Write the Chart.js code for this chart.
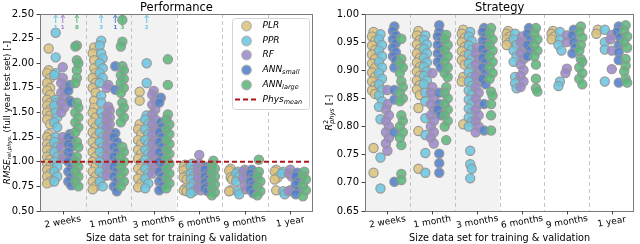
<!DOCTYPE html>
<html lang="en">
<head>
<meta charset="UTF-8" />
<title>Performance and Strategy</title>
<script src="https://cdn.jsdelivr.net/npm/chart.js@4"></script>
<style>
  body { margin: 0; background: #fff; }
  .wrap { display: flex; width: 640px; height: 244px; }
  .cell { width: 320px; height: 244px; }
</style>
</head>
<body>
<div class="wrap">
  <div class="cell"><canvas id="perfChart" width="320" height="244"></canvas></div>
  <div class="cell"><canvas id="stratChart" width="320" height="244"></canvas></div>
</div>

<script>
  const groups = ["2 weeks", "1 month", "3 months", "6 months", "9 months", "1 year"];
  const models = ["PLR", "PPR", "RF", "ANN", "ANN"];
  const modelSubs = ["", "", "", "small", "large"];
  const modelColors = ["#dcc47e", "#6cc6e0", "#9c89c9", "#5180cc", "#5cb77b"];
  const modelOffsets = [-0.31, -0.155, 0, 0.155, 0.31];

  // RMSE rel. phys. per model, one list per training size
  const rmsePLR = [
    [2.15, 1.93, 1.90, 1.85, 1.80, 1.75, 1.72, 1.68, 1.63, 1.60, 1.57, 1.53, 1.50, 1.47, 1.43, 1.38, 1.28, 1.25, 1.22, 1.18, 1.15, 1.12, 1.08, 1.05, 1.02, 0.98, 0.95, 0.92, 0.88, 0.85, 0.80, 0.78],
    [2.16, 2.10, 2.03, 1.95, 1.90, 1.85, 1.80, 1.75, 1.70, 1.62, 1.55, 1.50, 1.45, 1.40, 1.35, 1.30, 1.25, 1.20, 1.15, 1.10, 1.05, 1.00, 0.95, 0.90, 0.85, 0.80, 0.75, 0.72],
    [1.71, 1.62, 1.38, 1.33, 1.28, 1.22, 1.18, 1.12, 1.08, 1.03, 0.98, 0.93, 0.88, 0.83, 0.78, 0.74],
    [0.97, 0.95, 0.93, 0.91, 0.86, 0.84, 0.82, 0.73, 0.71, 0.70],
    [0.93, 0.91, 0.84, 0.82, 0.71, 0.70],
    [0.92, 0.90, 0.84, 0.82, 0.71]
  ];
  const rmsePPR = [
    [2.31, 2.06, 1.90, 1.88, 1.63, 1.60, 1.57, 1.50, 1.45, 1.40, 1.35, 1.25, 1.20, 1.15, 1.10, 1.05, 1.00, 0.95, 0.90, 0.85, 0.80],
    [2.23, 2.18, 2.10, 2.05, 2.00, 1.95, 1.90, 1.85, 1.80, 1.67, 1.60, 1.50, 1.45, 1.40, 1.35, 1.30, 1.25, 1.20, 1.15, 1.10, 1.05, 1.00, 0.95, 0.90, 0.85, 0.80, 0.75],
    [2.00, 1.80, 1.47, 1.43, 1.38, 1.33, 1.28, 1.22, 1.18, 1.12, 1.08, 1.02, 0.98, 0.93, 0.88, 0.83, 0.78, 0.73],
    [0.98, 0.95, 0.92, 0.88, 0.85, 0.82, 0.78, 0.74, 0.70, 0.68],
    [0.90, 0.88, 0.85, 0.80, 0.70, 0.67],
    [0.90, 0.88, 0.70, 0.67]
  ];
  const rmseRF = [
    [1.96, 1.85, 1.80, 1.75, 1.70, 1.66, 1.60, 1.55, 1.50, 1.25, 1.20, 1.15, 1.05, 1.03],
    [1.78, 1.75, 1.56, 1.52, 1.48, 1.45, 1.42, 1.38, 1.35, 1.30, 1.25, 1.20, 1.15, 1.10, 1.05, 1.00, 0.95, 0.90, 0.86],
    [1.72, 1.68, 1.62, 1.58, 1.53, 1.48, 1.43, 1.38, 1.33, 1.28, 1.22, 1.18, 1.12, 1.08, 1.03, 0.98, 0.93, 0.88],
    [1.07, 0.98, 0.95, 0.92, 0.90, 0.86, 0.83, 0.78, 0.74, 0.71],
    [0.92, 0.90, 0.86, 0.83, 0.76, 0.72],
    [0.92, 0.88, 0.85, 0.71, 0.70]
  ];
  const rmseANNsmall = [
    [1.78, 1.72, 1.62, 1.60, 1.28, 1.25, 1.22, 1.18, 1.15, 1.10, 1.05, 1.00, 0.95, 0.90, 0.85, 0.80, 0.76],
    [1.97, 1.73, 1.29, 1.25, 1.20, 1.15, 1.10, 1.05, 1.00, 0.95, 0.90, 0.85, 0.80, 0.75, 0.70],
    [1.65, 1.60, 1.40, 1.35, 1.30, 1.25, 1.20, 1.15, 1.10, 1.05, 1.00, 0.95, 0.90, 0.85, 0.80, 0.75, 0.71],
    [0.95, 0.92, 0.88, 0.85, 0.82, 0.79, 0.76, 0.73, 0.70],
    [0.92, 0.88, 0.84, 0.80, 0.76, 0.72, 0.68],
    [0.89, 0.85, 0.80, 0.77, 0.71, 0.67]
  ];
  const rmseANNlarge = [
    [2.18, 2.17, 2.03, 2.00, 1.93, 1.85, 1.80, 1.60, 1.55, 1.50, 1.45, 1.40, 1.35, 1.30, 1.20, 1.15, 1.05, 1.00, 0.95, 0.90, 0.85, 0.80, 0.75],
    [2.44, 2.22, 2.17, 1.97, 1.93, 1.88, 1.84, 1.80, 1.75, 1.70, 1.60, 1.55, 1.50, 1.45, 1.40, 1.15, 1.10, 1.05, 1.00, 0.95, 0.90, 0.85, 0.80, 0.75],
    [2.04, 1.78, 1.48, 1.43, 1.38, 1.33, 1.28, 1.22, 1.18, 1.12, 1.08, 1.03, 0.98, 0.93, 0.88, 0.83, 0.78, 0.73],
    [1.01, 0.97, 0.93, 0.89, 0.85, 0.81, 0.77, 0.73, 0.69, 0.66],
    [1.02, 0.90, 0.85, 0.80, 0.75, 0.70, 0.66],
    [0.90, 0.86, 0.82, 0.76, 0.71, 0.65]
  ];
  const physMean = 1.0;

  // points above the RMSE axis limit (shown as arrows with counts)
  const outlierGroups = [0, 0, 0, 1, 1, 1, 2];
  const outlierModels = [1, 2, 4, 1, 3, 4, 1];
  const outlierCounts = [1, 1, 8, 3, 1, 3, 2];

  // R2 phys per model, one list per training size
  const r2PLR = [
    [0.968, 0.960, 0.952, 0.944, 0.936, 0.928, 0.920, 0.912, 0.904, 0.896, 0.888, 0.880, 0.872, 0.864, 0.858, 0.762, 0.718],
    [0.970, 0.962, 0.954, 0.946, 0.938, 0.930, 0.922, 0.914, 0.906, 0.898, 0.890, 0.882, 0.874, 0.866, 0.856, 0.833, 0.792, 0.725],
    [0.972, 0.965, 0.958, 0.950, 0.942, 0.934, 0.926, 0.918, 0.910, 0.888, 0.880, 0.804],
    [0.970, 0.965, 0.960, 0.955, 0.950, 0.945],
    [0.970, 0.965, 0.960, 0.955],
    [0.972, 0.965]
  ];
  const r2PPR = [
    [0.964, 0.955, 0.945, 0.935, 0.925, 0.915, 0.905, 0.895, 0.885, 0.875, 0.865, 0.855, 0.845, 0.835, 0.813, 0.745, 0.690],
    [0.962, 0.954, 0.946, 0.938, 0.930, 0.922, 0.914, 0.906, 0.898, 0.890, 0.882, 0.875, 0.860, 0.845, 0.815, 0.785, 0.753, 0.718],
    [0.968, 0.960, 0.952, 0.944, 0.936, 0.928, 0.920, 0.912, 0.904, 0.896, 0.888, 0.880, 0.872, 0.864, 0.856, 0.848, 0.840, 0.832, 0.824, 0.816, 0.808, 0.800, 0.757, 0.733, 0.725, 0.708],
    [0.965, 0.955, 0.945, 0.935, 0.925, 0.915, 0.888, 0.877, 0.868],
    [0.968, 0.955, 0.945, 0.935, 0.880, 0.872],
    [0.972, 0.950, 0.937, 0.880]
  ];
  const r2RF = [
    [0.865, 0.840, 0.830, 0.820, 0.810, 0.800, 0.790, 0.780, 0.770, 0.757],
    [0.895, 0.870, 0.860, 0.850, 0.840, 0.830, 0.820, 0.810, 0.800, 0.790, 0.780, 0.770],
    [0.940, 0.930, 0.920, 0.910, 0.900, 0.890, 0.880, 0.870, 0.860, 0.850, 0.840, 0.830, 0.820, 0.810, 0.800, 0.790],
    [0.960, 0.950, 0.940, 0.930, 0.920, 0.910, 0.900, 0.890, 0.880, 0.870],
    [0.962, 0.950, 0.903, 0.895],
    [0.963, 0.955, 0.935, 0.902]
  ];
  const r2ANNsmall = [
    [0.978, 0.970, 0.962, 0.955, 0.948, 0.940, 0.932, 0.925, 0.918, 0.905, 0.865, 0.848, 0.790, 0.702],
    [0.980, 0.968, 0.960, 0.952, 0.945, 0.938, 0.930, 0.922, 0.915, 0.905, 0.860, 0.840, 0.830, 0.820, 0.752, 0.735, 0.718],
    [0.975, 0.968, 0.960, 0.952, 0.945, 0.938, 0.930, 0.922, 0.915, 0.905, 0.895, 0.885, 0.875, 0.840, 0.793],
    [0.975, 0.965, 0.955, 0.945, 0.935, 0.925],
    [0.972, 0.962, 0.950, 0.940, 0.930],
    [0.978, 0.968, 0.958, 0.945, 0.932, 0.918, 0.878]
  ];
  const r2ANNlarge = [
    [0.956, 0.920, 0.912, 0.905, 0.895, 0.880, 0.870, 0.860, 0.850, 0.845, 0.820, 0.810, 0.800, 0.790, 0.780, 0.767, 0.716, 0.705],
    [0.963, 0.955, 0.945, 0.935, 0.925, 0.915, 0.905, 0.895, 0.888, 0.870, 0.860, 0.850, 0.840, 0.830, 0.820, 0.810, 0.800, 0.776],
    [0.975, 0.965, 0.955, 0.945, 0.935, 0.925, 0.915, 0.905, 0.895, 0.885, 0.862, 0.855, 0.840, 0.820, 0.793],
    [0.975, 0.965, 0.955, 0.945, 0.935, 0.925, 0.910, 0.885, 0.868, 0.862],
    [0.978, 0.968, 0.958, 0.945, 0.935, 0.920, 0.915, 0.905, 0.895, 0.885, 0.875],
    [0.980, 0.970, 0.960, 0.950, 0.940, 0.920, 0.908, 0.898, 0.885, 0.878]
  ];

  const FONT = "DejaVu Sans";
  const PLOT_TOP = 14;
  const PLOT_BOTTOM = 211;

  function hexToRgba(hex, a) {
    const n = parseInt(hex.slice(1), 16);
    return `rgba(${n >> 16},${(n >> 8) & 255},${n & 255},${a})`;
  }

  // small alternate nudge so close points in a column don't sit exactly on top of each other
  function stripPoints(lists, m, pxPerX, pxPerY) {
    const pts = [];
    lists.forEach((vals, g) => {
      let prev = null, flip = 1;
      vals.forEach(v => {
        let dx = 0;
        if (prev !== null && Math.abs(prev - v) * pxPerY < 6) {
          flip = -flip;
          dx = flip * 1.5;
        }
        prev = v;
        pts.push({ x: g + modelOffsets[m] + dx / pxPerX, y: v });
      });
    });
    return pts;
  }

  // text with italic / sub / superscript parts
  function drawRich(ctx, x, y, parts, align) {
    const widths = parts.map(p => {
      ctx.font = `${p.italic ? "italic " : ""}${p.bold ? "bold " : ""}${p.size}px "${FONT}"`;
      return p.advance !== undefined ? p.advance : ctx.measureText(p.text).width;
    });
    const total = widths.reduce((a, b) => a + b, 0);
    let cx = align === "center" ? x - total / 2 : (align === "right" ? x - total : x);
    ctx.textAlign = "left";
    parts.forEach((p, i) => {
      ctx.font = `${p.italic ? "italic " : ""}${p.bold ? "bold " : ""}${p.size}px "${FONT}"`;
      ctx.fillText(p.text, cx, y + (p.dy || 0));
      cx += widths[i];
    });
  }

  function makeChart(canvasId, cfg) {
    const plotWidth = 320 - cfg.yWidth - cfg.padRight;
    const pxPerX = plotWidth / 6;
    const pxPerY = (PLOT_BOTTOM - PLOT_TOP) / (cfg.yMax - cfg.yMin);

    const datasets = cfg.series.map((lists, m) => ({
      type: "scatter",
      label: models[m] + modelSubs[m],
      data: stripPoints(lists, m, pxPerX, pxPerY),
      backgroundColor: hexToRgba(modelColors[m], 0.88),
      borderColor: "rgba(150,150,150,0.95)",
      borderWidth: 1.2,
      pointRadius: 4.6,
      order: 5 - m
    }));
    if (cfg.refLine !== null) {
      datasets.push({
        type: "line",
        label: "Phys mean",
        data: [{ x: -0.5, y: cfg.refLine }, { x: 5.5, y: cfg.refLine }],
        borderColor: "#b0191c",
        borderWidth: 1.8,
        borderDash: [5, 3],
        pointRadius: 0,
        order: 0
      });
    }

    const decor = {
      id: "decor",
      beforeDatasetsDraw(chart) {
        const { ctx, chartArea: a, scales: { x } } = chart;
        ctx.save();
        ctx.fillStyle = "#f2f2f2";
        const xs = x.getPixelForValue(-0.5), xe = x.getPixelForValue(2.5);
        ctx.fillRect(xs, a.top, xe - xs, a.bottom - a.top);
        ctx.strokeStyle = "#c4c4c4";
        ctx.lineWidth = 1;
        ctx.setLineDash([4, 3]);
        for (let i = 0; i < groups.length - 1; i++) {
          const px = Math.round(x.getPixelForValue(i + 0.5)) + 0.5;
          ctx.beginPath();
          ctx.moveTo(px, a.top);
          ctx.lineTo(px, a.bottom);
          ctx.stroke();
        }
        ctx.restore();
      },
      afterDraw(chart) {
        const { ctx, chartArea: a, scales: { x } } = chart;
        ctx.save();
        // frame
        ctx.strokeStyle = "#7a7a7a";
        ctx.lineWidth = 1;
        ctx.strokeRect(Math.round(a.left) + 0.5, Math.round(a.top) + 0.5,
          Math.round(a.right - a.left) - 1, Math.round(a.bottom - a.top));
        // x ticks and rotated labels
        ctx.fillStyle = "#000";
        ctx.strokeStyle = "#444";
        groups.forEach((g, i) => {
          const px = x.getPixelForValue(i);
          ctx.beginPath();
          ctx.moveTo(Math.round(px) + 0.5, a.bottom);
          ctx.lineTo(Math.round(px) + 0.5, a.bottom + 3.5);
          ctx.stroke();
          ctx.save();
          ctx.translate(px, 222);
          ctx.rotate(-10 * Math.PI / 180);
          ctx.font = `9px "${FONT}"`;
          ctx.textAlign = "center";
          ctx.textBaseline = "middle";
          ctx.fillText(g, 0, 0);
          ctx.restore();
        });
        // titles
        const cxm = (a.left + a.right) / 2;
        ctx.textBaseline = "alphabetic";
        ctx.textAlign = "center";
        ctx.font = `11.5px "${FONT}"`;
        ctx.fillText(cfg.title, cxm, 10.5);
        ctx.font = `9.7px "${FONT}"`;
        ctx.fillText("Size data set for training & validation", cxm, 240.5);
        // y axis title
        ctx.save();
        ctx.translate(cfg.yLabelX, (a.top + a.bottom) / 2);
        ctx.rotate(-Math.PI / 2);
        ctx.textBaseline = "middle";
        drawRich(ctx, 0, 0, cfg.yLabelParts, "center");
        ctx.restore();

        if (cfg.arrows) {
          outlierGroups.forEach((g, k) => {
            const m = outlierModels[k];
            const px = x.getPixelForValue(g + modelOffsets[m]);
            ctx.strokeStyle = modelColors[m];
            ctx.fillStyle = modelColors[m];
            ctx.lineWidth = 1;
            ctx.beginPath();
            ctx.moveTo(px, 23);
            ctx.lineTo(px, 16);
            ctx.stroke();
            ctx.beginPath();
            ctx.moveTo(px - 2, 18);
            ctx.lineTo(px, 15);
            ctx.lineTo(px + 2, 18);
            ctx.stroke();
            ctx.font = `bold 5.5px "${FONT}"`;
            ctx.textAlign = "center";
            ctx.textBaseline = "middle";
            ctx.fillText(String(outlierCounts[k]), px, 27.5);
          });
        }

        if (cfg.legend) {
          const bx = 232, by = 18.5, bw = 77, bh = 91;
          ctx.fillStyle = "rgba(255,255,255,0.85)";
          ctx.strokeStyle = "#d4d4d4";
          ctx.lineWidth = 1;
          ctx.beginPath();
          ctx.roundRect(bx + 0.5, by, bw, bh, 3);
          ctx.fill();
          ctx.stroke();
          const rowY = [26, 41, 55, 70, 85, 99.5];
          ctx.textBaseline = "middle";
          models.forEach((name, m) => {
            ctx.beginPath();
            ctx.arc(246.5, rowY[m], 4.8, 0, Math.PI * 2);
            ctx.fillStyle = hexToRgba(modelColors[m], 0.88);
            ctx.fill();
            ctx.strokeStyle = "rgba(175,175,175,0.95)";
            ctx.lineWidth = 1.2;
            ctx.stroke();
            ctx.fillStyle = "#000";
            const parts = [{ text: name, size: 9, italic: true }];
            if (modelSubs[m]) parts.push({ text: modelSubs[m], size: 6.5, italic: true, dy: 2.5 });
            drawRich(ctx, 262.5, rowY[m], parts, "left");
          });
          ctx.strokeStyle = "#b0191c";
          ctx.lineWidth = 1.8;
          ctx.setLineDash([5, 3]);
          ctx.beginPath();
          ctx.moveTo(235, rowY[5]);
          ctx.lineTo(256, rowY[5]);
          ctx.stroke();
          ctx.setLineDash([]);
          ctx.fillStyle = "#000";
          drawRich(ctx, 262.5, rowY[5], [
            { text: "Phys", size: 9, italic: true },
            { text: "mean", size: 6.5, italic: true, dy: 2.5 }
          ], "left");
        }
        ctx.restore();
      }
    };

    return new Chart(document.getElementById(canvasId), {
      data: { datasets },
      options: {
        responsive: false,
        animation: false,
        devicePixelRatio: 1,
        layout: { padding: { left: 0, top: PLOT_TOP, right: cfg.padRight, bottom: 0 } },
        plugins: { legend: { display: false }, tooltip: { enabled: false } },
        scales: {
          x: {
            type: "linear",
            min: -0.5,
            max: 5.5,
            afterFit: s => { s.height = 244 - PLOT_BOTTOM; },
            ticks: { display: false },
            grid: { display: false },
            border: { display: false }
          },
          y: {
            type: "linear",
            min: cfg.yMin,
            max: cfg.yMax,
            afterFit: s => { s.width = cfg.yWidth; },
            ticks: {
              stepSize: cfg.yStep,
              callback: v => v.toFixed(2),
              color: "#000",
              padding: 2.5,
              font: { family: FONT, size: 10 }
            },
            grid: { drawOnChartArea: false, drawTicks: true, tickLength: 3.5, color: "#444" },
            border: { display: false }
          }
        }
      },
      plugins: [decor]
    });
  }

  makeChart("perfChart", {
    series: [rmsePLR, rmsePPR, rmseRF, rmseANNsmall, rmseANNlarge],
    yMin: 0.5, yMax: 2.5, yStep: 0.25, yWidth: 40, padRight: 7,
    title: "Performance",
    refLine: physMean,
    arrows: true,
    legend: true,
    yLabelX: 7.5,
    yLabelParts: [
      { text: "RMSE", size: 8.8, italic: true },
      { text: "rel,phys.", size: 5.6, italic: true, dy: 2.3 },
      { text: " (full year test set) [-]", size: 8.8 }
    ]
  });

  makeChart("stratChart", {
    series: [r2PLR, r2PPR, r2RF, r2ANNsmall, r2ANNlarge],
    yMin: 0.65, yMax: 1.0, yStep: 0.05, yWidth: 45, padRight: 2,
    title: "Strategy",
    refLine: null,
    arrows: false,
    legend: false,
    yLabelX: 9.5,
    yLabelParts: [
      { text: "R", size: 9.4, italic: true },
      { text: "2", size: 6.6, dy: -3.5, advance: 0 },
      { text: "phys", size: 6.6, italic: true, dy: 2.8 },
      { text: " [-]", size: 9.4 }
    ]
  });
</script>
</body>
</html>
